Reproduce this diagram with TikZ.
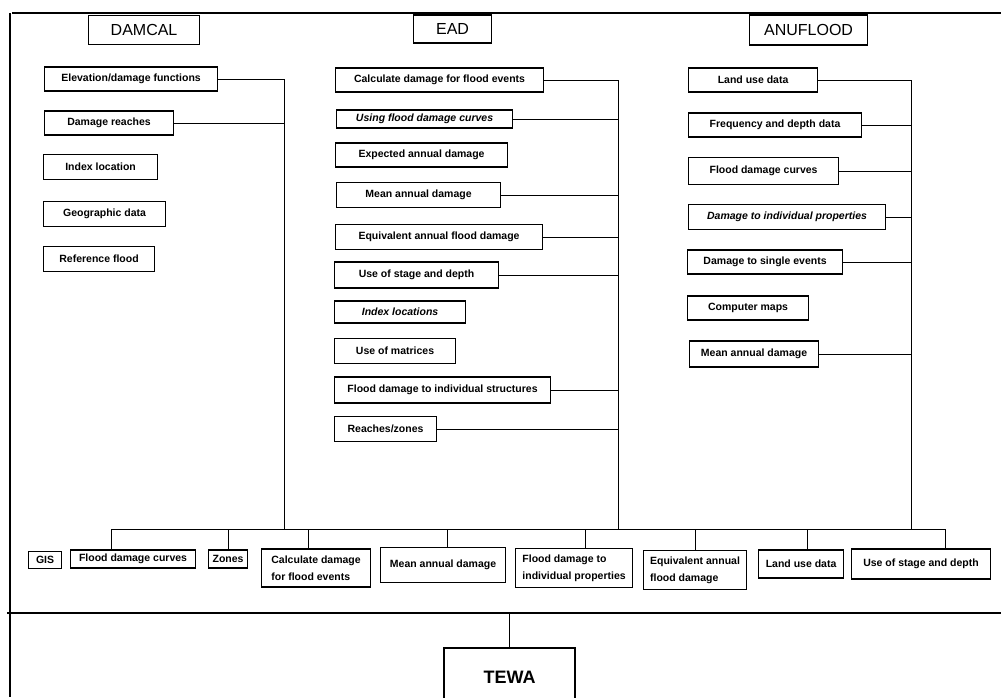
\documentclass[tikz,border=0pt]{standalone}
\usepackage{fontspec}
\setmainfont{Liberation Sans}
\usepackage{tikz}
\usetikzlibrary{positioning, calc}

\tikzset{
  head/.style={draw, line width=1.1pt, anchor=west, inner sep=2pt, font=\fontsize{16}{18}\selectfont},
  item/.style={draw, line width=1.1pt, anchor=west, inner sep=2pt, font=\bfseries\fontsize{10.5}{12}\selectfont},
  itemit/.style={item, font=\bfseries\itshape\fontsize{10.5}{12}\selectfont},
  twoline/.style={item, align=left, font=\bfseries\fontsize{10.5}{17}\selectfont},
  link/.style={line width=1pt}
}

\begin{document}
\begin{tikzpicture}[x=1pt, y=-1pt]
        \useasboundingbox (0,0) rectangle (1001,697);
        \clip (0,0) rectangle (1001,697);

        % Frame
        \draw[line width=1.4pt] (12,13) -- (1001,13);
        \draw[line width=1.4pt] (10,13) -- (10,697);
        \draw[line width=1.2pt] (7,613) -- (1001,613);

        % Headers
        \node[head, minimum width=111pt, minimum height=29pt] (damcal) at (88,30) {DAMCAL};
        \node[head, minimum width=78pt, minimum height=28pt] (ead) at (413,29) {EAD};
        \node[head, minimum width=118pt, minimum height=30pt] (anuflood) at (749,30) {ANUFLOOD};

        % DAMCAL items
        \node[item, minimum width=173pt, minimum height=24pt] (elev) at (44,79) {Elevation/damage functions};
        \node[item, minimum width=129pt, minimum height=24pt] (dreach) at (44,123) {Damage reaches};
        \node[item, minimum width=114pt, minimum height=25pt] (idxloc) at (43,167) {Index location};
        \node[item, minimum width=122pt, minimum height=25pt] (geo) at (43,214) {Geographic data};
        \node[item, minimum width=111pt, minimum height=25pt] (refflood) at (43,259) {Reference flood};

        % EAD items
        \node[item, minimum width=208pt, minimum height=24pt] (calcd) at (335,80) {Calculate damage for flood events};
        \node[itemit, minimum width=176pt, minimum height=18pt] (usingfdc) at (336,119) {Using flood damage curves};
        \node[item, minimum width=172pt, minimum height=24pt] (expad) at (335,155) {Expected annual damage};
        \node[item, minimum width=164pt, minimum height=25pt] (meanad) at (336,195) {Mean annual damage};
        \node[item, minimum width=207pt, minimum height=25pt] (equivfd) at (335,237) {Equivalent annual flood damage};
        \node[item, minimum width=164pt, minimum height=26pt] (usestage) at (334,275) {Use of stage and depth};
        \node[itemit, minimum width=131pt, minimum height=22pt] (idxlocs) at (334,312) {Index locations};
        \node[item, minimum width=121pt, minimum height=25pt] (matrices) at (334,351) {Use of matrices};
        \node[item, minimum width=216pt, minimum height=26pt] (fdis) at (334,390) {Flood damage to individual structures};
        \node[item, minimum width=102pt, minimum height=25pt] (reaches) at (334,429) {Reaches/zones};

        % ANUFLOOD items
        \node[item, minimum width=129pt, minimum height=24pt] (landuse) at (688,80) {Land use data};
        \node[item, minimum width=173pt, minimum height=24pt] (freqdepth) at (688,125) {Frequency and depth data};
        \node[item, minimum width=150pt, minimum height=27pt] (anufdc) at (688,171) {Flood damage curves};
        \node[itemit, minimum width=197pt, minimum height=25pt] (dip) at (688,217) {Damage to individual properties};
        \node[item, minimum width=155pt, minimum height=24pt] (dse) at (687,262) {Damage to single events};
        \node[item, minimum width=121pt, minimum height=24pt] (compmaps) at (687,308) {Computer maps};
        \node[item, minimum width=129pt, minimum height=26pt] (anumad) at (689,354) {Mean annual damage};

        % Bottom row
        \node[item, minimum width=33pt, minimum height=17pt] (gis) at (28,560) {GIS};
        \node[item, minimum width=125pt, minimum height=18pt] (bfdc) at (70,559) {Flood damage curves};
        \node[item, minimum width=39pt, minimum height=18pt] (zones) at (208,559) {Zones};
        \node[twoline, minimum width=109pt, minimum height=38pt] (bcalc) at (261,568) {Calculate damage\\for flood events};
        \node[item, minimum width=125pt, minimum height=35pt] (bmad) at (380,565) {Mean annual damage};
        \node[twoline, minimum width=117pt, minimum height=39pt] (bfdip) at (515,568) {Flood damage to\\individual properties};
        \node[twoline, minimum width=103pt, minimum height=39pt] (bequiv) at (643,570) {Equivalent annual\\ flood damage};
        \node[item, minimum width=85pt, minimum height=28pt] (bland) at (758,564) {Land use data};
        \node[item, minimum width=139pt, minimum height=30pt] (bstage) at (851,564) {Use of stage and depth};

        % TEWA
        \node[draw, line width=1.6pt, anchor=north, minimum width=131pt, minimum height=58pt,
              font=\bfseries\fontsize{18}{20}\selectfont] (tewa) at (509.5,647) {TEWA};

        % Collector columns and bus
        \coordinate (dcol) at (284,529);
        \coordinate (ecol) at (618,529);
        \coordinate (acol) at (911,529);
        \coordinate (busL) at (111,529);
        \coordinate (busR) at (945,529);
        \coordinate (divider) at (509.5,613);

        % DAMCAL links
        \draw[link] (elev.east) -| (dcol);
        \draw[link] (dreach.east) -- (dreach.east -| dcol);

        % EAD links
        \draw[link] (calcd.east) -| (ecol);
        \foreach \n in {usingfdc, meanad, equivfd, usestage, fdis, reaches}
            \draw[link] (\n.east) -- (\n.east -| ecol);

        % ANUFLOOD links
        \draw[link] (landuse.east) -| (acol);
        \foreach \n in {freqdepth, anufdc, dip, dse, anumad}
            \draw[link] (\n.east) -- (\n.east -| acol);

        % Bus and drops
        \draw[link] (busL) -- (busR);
        \draw[link] (bfdc.north -| busL) -- (busL);
        \draw[link] (zones.north) -- (zones.north |- busL);
        \draw[link] ([xshift=-8pt]bcalc.north) -- ([xshift=-8pt]bcalc.north |- busL);
        \draw[link] ([xshift=4pt]bmad.north) -- ([xshift=4pt]bmad.north |- busL);
        \draw[link] ([xshift=11pt]bfdip.north) -- ([xshift=11pt]bfdip.north |- busL);
        \draw[link] (bequiv.north) -- (bequiv.north |- busL);
        \draw[link] ([xshift=6pt]bland.north) -- ([xshift=6pt]bland.north |- busL);
        \draw[link] (bstage.north -| busR) -- (busR);

        % Down to TEWA
        \draw[link] (tewa.north) -- (divider);
    \end{tikzpicture}
\end{document}
